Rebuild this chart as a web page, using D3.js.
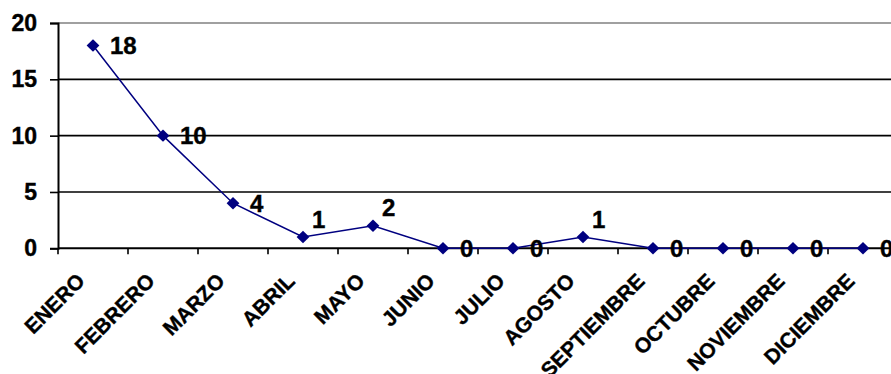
<!DOCTYPE html>
<html>
<head>
<meta charset="utf-8">
<script src="https://cdn.jsdelivr.net/npm/d3@7"></script>
<style>
  html, body { margin: 0; padding: 0; background: #ffffff; }
  svg { display: block; }
  text { font-family: "Liberation Sans", Arial, sans-serif; font-weight: bold; fill: #000; stroke: #000; stroke-width: 0.4px; }
</style>
</head>
<body>
<svg id="chart" width="891" height="374"></svg>
<script>
// ---- data ----
const months = ["ENERO", "FEBRERO", "MARZO", "ABRIL", "MAYO", "JUNIO", "JULIO",
                "AGOSTO", "SEPTIEMBRE", "OCTUBRE", "NOVIEMBRE", "DICIEMBRE"];
const values = [18, 10, 4, 1, 2, 0, 0, 1, 0, 0, 0, 0];
const yTicks = [0, 5, 10, 15, 20];

// ---- layout ----
const W = 891, H = 374;
const plot = { left: 58, right: 898, top: 23, bottom: 248.3 };
const svg = d3.select("#chart");

const x = d3.scaleBand().domain(months).range([plot.left, plot.right]);
const y = d3.scaleLinear().domain([0, 20]).range([plot.bottom, plot.top]);
const cx = m => x(m) + x.bandwidth() / 2;

// gridlines (5, 10, 15)
svg.append("g").selectAll("line")
  .data(yTicks.filter(t => t > 0 && t < 20))
  .join("line")
  .attr("x1", plot.left).attr("x2", W)
  .attr("y1", d => y(d)).attr("y2", d => y(d))
  .attr("stroke", "#000").attr("stroke-width", 1.6);

// plot area top border
svg.append("line")
  .attr("x1", plot.left).attr("x2", W)
  .attr("y1", y(20)).attr("y2", y(20))
  .attr("stroke", "#808080").attr("stroke-width", 1.6);

// y axis
const yAxis = d3.axisLeft(y).tickValues(yTicks).tickSize(8).tickPadding(13).tickFormat(d3.format("d"));
const gy = svg.append("g").attr("transform", `translate(${plot.left},0)`).call(yAxis);
gy.select(".domain").attr("stroke", "#000").attr("stroke-width", 2);
gy.selectAll(".tick line").attr("stroke", "#000").attr("stroke-width", 1.6);
gy.selectAll(".tick text")
  .attr("font-size", 23).attr("font-family", "Liberation Sans, Arial, sans-serif")
  .attr("font-weight", "bold").attr("fill", "#000");

// x axis line
svg.append("line")
  .attr("x1", plot.left).attr("x2", W)
  .attr("y1", plot.bottom).attr("y2", plot.bottom)
  .attr("stroke", "#000").attr("stroke-width", 2);

// x tick marks at category boundaries
svg.append("g").selectAll("line")
  .data(months)
  .join("line")
  .attr("x1", d => x(d)).attr("x2", d => x(d))
  .attr("y1", plot.bottom).attr("y2", plot.bottom + 6)
  .attr("stroke", "#000").attr("stroke-width", 1.6);

// x labels rotated
svg.append("g").selectAll("text")
  .data(months)
  .join("text")
  .attr("transform", d => `translate(${cx(d) - 7},${plot.bottom + 34}) rotate(-45)`)
  .attr("text-anchor", "end")
  .attr("font-size", 21)
  .text(d => d);

// line
const pts = months.map((m, i) => ({ m, v: values[i] }));
svg.append("path")
  .datum(pts)
  .attr("fill", "none")
  .attr("stroke", "#000080")
  .attr("stroke-width", 1.5)
  .attr("d", d3.line().x(d => cx(d.m)).y(d => y(d.v)));

// markers
svg.append("g").selectAll("path")
  .data(pts)
  .join("path")
  .attr("transform", d => `translate(${cx(d.m)},${y(d.v)})`)
  .attr("d", "M0,-6.2L6.4,0L0,6.2L-6.4,0Z")
  .attr("fill", "#000080");

// data labels: right of point, small nonzero values lifted above-right
svg.append("g").selectAll("text")
  .data(pts)
  .join("text")
  .attr("x", d => cx(d.m) + ((d.v > 0 && d.v < 3) ? 9 : 17))
  .attr("y", d => y(d.v) + ((d.v > 0 && d.v < 3) ? -18 : 0) + 8.5)
  .attr("font-size", 24)
  .text(d => d.v);
</script>
</body>
</html>
